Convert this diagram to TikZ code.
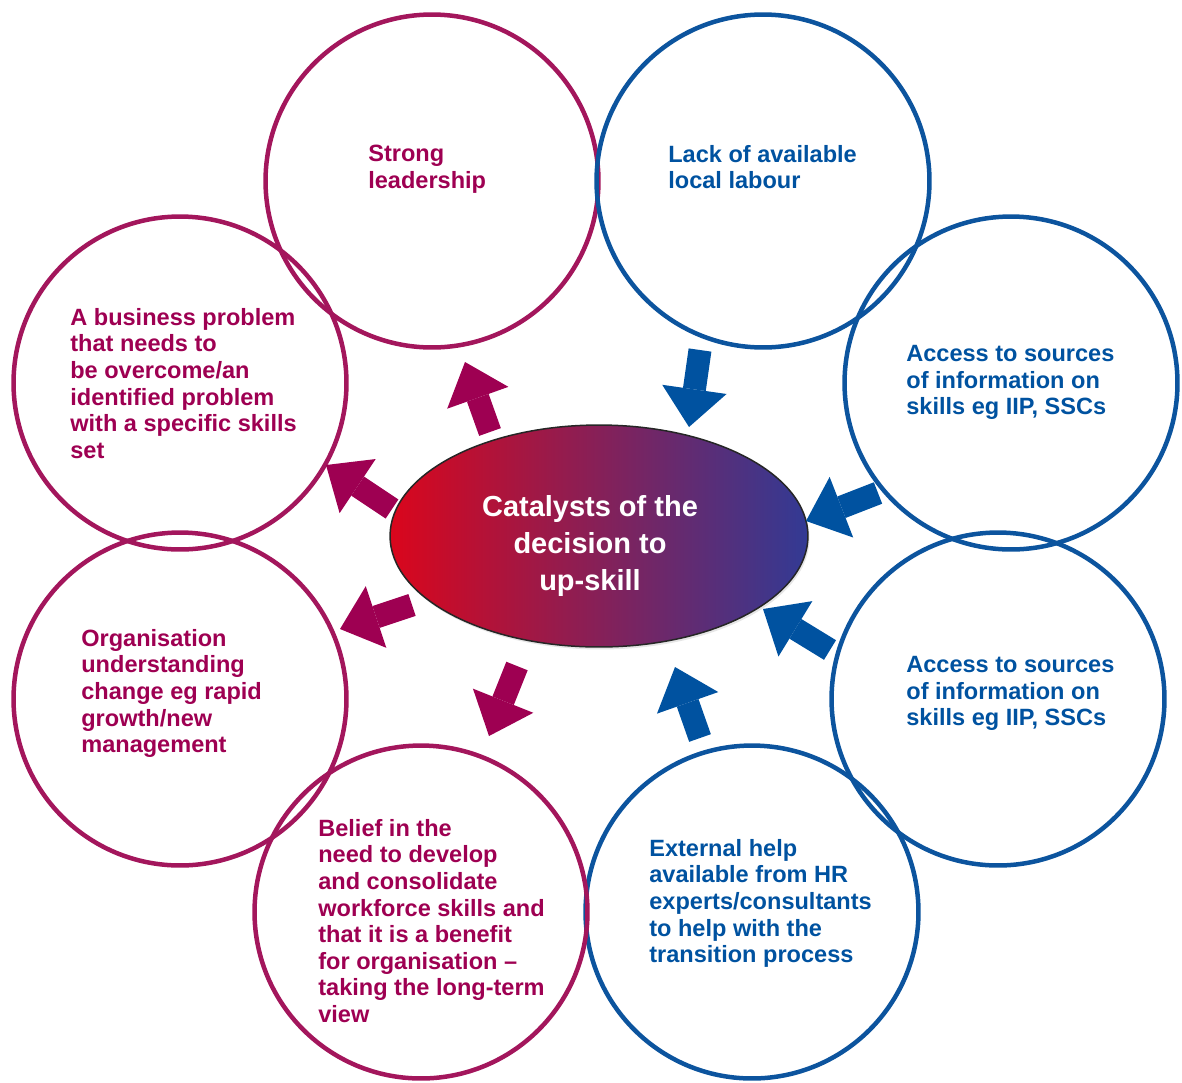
\documentclass[tikz,border=0pt]{standalone}
\usepackage{fontspec}
\setmainfont{Liberation Sans}
\usetikzlibrary{arrows.meta,shapes.geometric,shadows}
\definecolor{plum}{RGB}{158,0,82}
\definecolor{plumline}{RGB}{163,22,92}
\definecolor{navy}{RGB}{0,82,160}
\definecolor{navyline}{RGB}{12,84,158}
\definecolor{hotred}{RGB}{218,6,28}
\definecolor{midplum}{RGB}{166,30,120}
\definecolor{deepblue}{RGB}{50,58,148}
\begin{document}
\begin{tikzpicture}[x=0.02cm, y=-0.02cm,
  red circle/.style={circle, draw=plumline, line width=0.09cm, minimum size=6.66cm, inner sep=0pt},
  blue circle/.style={circle, draw=navyline, line width=0.09cm, minimum size=6.66cm, inner sep=0pt},
  red text/.style={anchor=north west, align=left, text=plum, inner sep=0pt},
  blue text/.style={anchor=north west, align=left, text=navy, inner sep=0pt},
  out arrow/.style={draw=plum, line width=0.46cm, -{Triangle[width=1.3cm, length=0.76cm, line width=0pt]}},
  in arrow/.style={draw=navy, line width=0.46cm, -{Triangle[width=1.3cm, length=0.76cm, line width=0pt]}}]
        \tikzstyle{every node}=[font=\bfseries\fontsize{13.4}{15.1}\selectfont]
        \useasboundingbox (0,0) rectangle (1182,1082);

          % ring of circles
          \node[red circle] (lead) at (432,181) {};
          \node[blue circle] (labour) at (763,181) {};
          \node[blue circle] (info1) at (1011,383) {};
          \node[blue circle] (info2) at (998,699) {};
          \node[blue circle] (help) at (752,912) {};
          \node[red circle] (belief) at (421,912) {};
          \node[red circle] (change) at (180,699) {};
          \node[red circle] (problem) at (180,383) {};

          \node[red text] (leadtxt) at (368,145) {Strong\\leadership};
          \node[blue text] (labourtxt) at (668,145) {Lack of available\\local labour};
          \node[blue text] (info1txt) at (906,345) {Access to sources\\of information on\\skills eg IIP, SSCs};
          \node[blue text] (info2txt) at (906,656) {Access to sources\\of information on\\skills eg IIP, SSCs};
          \node[blue text] (helptxt) at (649,839) {External help\\available from HR\\experts/consultants\\to help with the\\transition process};
          \node[red text] (belieftxt) at (318,819) {Belief in the\\need to develop\\and consolidate\\workforce skills and\\that it is a benefit\\for organisation --\\taking the long-term\\view};
          \node[red text] (changetxt) at (81,629) {Organisation\\understanding\\change eg rapid\\growth/new\\management};
          \node[red text] (problemtxt) at (70,308) {A business problem\\that needs to\\be overcome/an\\identified problem\\with a specific skills\\set};

          % centre
          \node[ellipse, minimum width=8.36cm, minimum height=4.44cm, draw=black!85, line width=0.03cm,
                left color=hotred, middle color=midplum, right color=deepblue,
                drop shadow={opacity=0.2, shadow xshift=0.03cm, shadow yshift=-0.05cm}] (cat) at (599,536) {};
          \node[text=white, align=center, font=\bfseries\fontsize{16.5}{21}\selectfont] (cattxt) at (590,546)
                {Catalysts of the\\decision to\\up-skill};

          % block arrows
          \coordinate (a1s) at (490,432); \coordinate (a1e) at (465,362);
          \coordinate (a2s) at (700,350); \coordinate (a2e) at (689,427);
          \coordinate (a3s) at (878,493); \coordinate (a3e) at (806,521);
          \coordinate (a4s) at (830,650); \coordinate (a4e) at (763,609);
          \coordinate (a5s) at (700,738); \coordinate (a5e) at (675,667);
          \coordinate (a6s) at (517,666); \coordinate (a6e) at (489,736);
          \coordinate (a7s) at (412,605); \coordinate (a7e) at (340,629);
          \coordinate (a8s) at (392,509); \coordinate (a8e) at (326,465);

          \draw[out arrow] (a1s) -- (a1e);
          \draw[in arrow] (a2s) -- (a2e);
          \draw[in arrow] (a3s) -- (a3e);
          \draw[in arrow] (a4s) -- (a4e);
          \draw[in arrow] (a5s) -- (a5e);
          \draw[out arrow] (a6s) -- (a6e);
          \draw[out arrow] (a7s) -- (a7e);
          \draw[out arrow] (a8s) -- (a8e);

        \end{tikzpicture}
\end{document}
